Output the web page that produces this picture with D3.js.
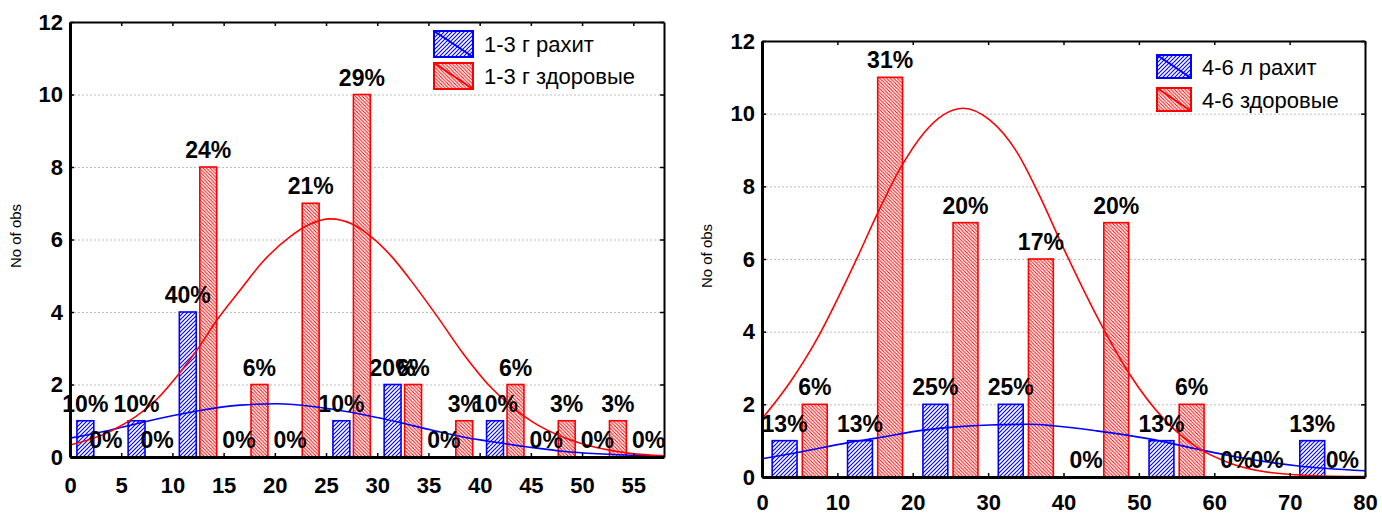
<!DOCTYPE html>
<html lang="ru">
<head>
<meta charset="UTF-8">
<title>Гистограммы: рахит / здоровые</title>
<script src="https://d3js.org/d3.v7.min.js"></script>
<style>
  body { margin: 0; background: #fff; }
  text { font-family: "Liberation Sans", Arial, sans-serif; }
</style>
</head>
<body>
<svg id="chart" width="1382" height="514"></svg>
<script>
// ---- left panel: 1-3 years, bins of 5 ----
const leftBins = [0, 5, 10, 15, 20, 25, 30, 35, 40, 45, 50, 55];
const leftRickets = [1, 1, 4, 0, 0, 1, 2, 0, 1, 0, 0, 0];
const leftHealthy = [0, 0, 8, 2, 7, 10, 2, 1, 2, 1, 1, 0];
const leftXTicks = [0, 5, 10, 15, 20, 25, 30, 35, 40, 45, 50, 55];
const leftLegend = ["1-3 г рахит", "1-3 г здоровые"];
// fitted curves as [x, count]
const leftRicketsCurve = [[0,0.52],[3.9,0.74],[8.5,1.05],[12.4,1.27],[16.6,1.43],[20.2,1.47],[24.1,1.38],[27.3,1.24],[31.9,0.97],[35.2,0.75],[38.4,0.55],[41.7,0.40],[44.9,0.27],[48.1,0.16],[51.5,0.09],[54.8,0.05],[58,0.02]];
const leftHealthyCurve = [[0,0.33],[3.9,0.7],[8.5,1.6],[10.7,2.32],[12.4,2.95],[14.4,3.8],[16.6,4.6],[18.8,5.38],[21.5,6.08],[23.4,6.42],[25.4,6.57],[27.6,6.42],[29.3,6.1],[31.5,5.5],[33.2,4.9],[35.8,3.9],[38.4,2.85],[41,1.95],[43,1.42],[45.2,0.96],[48.1,0.55],[51.4,0.26],[54.7,0.1],[58,0.03]];

// ---- right panel: 4-6 years, bins of 10 ----
const rightBins = [0, 10, 20, 30, 40, 50, 60, 70];
const rightRickets = [1, 1, 2, 2, 0, 1, 0, 1];
const rightHealthy = [2, 11, 7, 6, 7, 2, 0, 0];
const rightXTicks = [0, 10, 20, 30, 40, 50, 60, 70, 80];
const rightLegend = ["4-6 л рахит", "4-6 здоровые"];
const rightRicketsCurve = [[0,0.5],[5.1,0.69],[11.3,0.94],[15.2,1.07],[21.4,1.29],[25.8,1.38],[30.2,1.43],[35.5,1.45],[38.6,1.41],[44.4,1.27],[51.4,1.05],[57.7,0.77],[63,0.55],[70.9,0.31],[80,0.17]];
const rightHealthyCurve = [[0,1.6],[3.7,2.6],[7.3,3.8],[10.3,5.02],[13,6.2],[15.2,7.2],[18.3,8.48],[21.4,9.45],[24,9.96],[26.7,10.15],[30.2,9.83],[33.8,8.95],[36.9,7.71],[40,6.3],[45.2,4.12],[48.8,2.82],[53.2,1.62],[57.7,0.82],[62.1,0.38],[66.5,0.15],[70.9,0.06],[75.5,0.02],[80,0.01]];

const yTicks = [0, 2, 4, 6, 8, 10, 12];
const colors = ["#0000ff", "#ff0000"];

const svg = d3.select("#chart");
svg.append("rect").attr("width", 1382).attr("height", 514).attr("fill", "#fff");

const defs = svg.append("defs");
// blue "/" hatch, red "\" hatch
const pBlue = defs.append("pattern").attr("id", "hatch0")
    .attr("patternUnits", "userSpaceOnUse").attr("width", 4).attr("height", 4);
pBlue.append("rect").attr("width", 4).attr("height", 4).attr("fill", "#fff");
pBlue.append("path").attr("d", "M-1,1 l2,-2 M0,4 l4,-4 M3,5 l2,-2")
    .attr("stroke", colors[0]).attr("stroke-width", 1.1);
const pRed = defs.append("pattern").attr("id", "hatch1")
    .attr("patternUnits", "userSpaceOnUse").attr("width", 3.5).attr("height", 3.5);
pRed.append("rect").attr("width", 3.5).attr("height", 3.5).attr("fill", "#fff");
pRed.append("path").attr("d", "M-1,2.5 l2,2 M0,0 l3.5,3.5 M2.5,-1 l2,2")
    .attr("stroke", colors[1]).attr("stroke-width", 1);

function drawPanel(cfg, id) {
    const g = svg.append("g");
    const x = d3.scaleLinear().domain([0, cfg.xMax]).range([cfg.left, cfg.right]);
    const y = d3.scaleLinear().domain([0, 12]).range([cfg.bottom, cfg.top]);
    // two bars per bin
    const band = d3.scaleBand().domain([0, 1]).range([0, 1])
        .paddingInner(0.175).paddingOuter(0.3375);

    defs.append("clipPath").attr("id", "clip" + id)
        .append("rect")
        .attr("x", cfg.left).attr("y", cfg.top)
        .attr("width", cfg.right - cfg.left).attr("height", cfg.bottom - cfg.top);

    // dotted grid
    g.append("g")
        .attr("transform", `translate(${cfg.left},0)`)
        .call(d3.axisLeft(y).tickValues([2, 4, 6, 8, 10])
            .tickSize(-(cfg.right - cfg.left)).tickFormat(""))
        .call(a => a.select(".domain").remove())
        .selectAll("line")
        .attr("stroke", "#bdbdbd").attr("stroke-dasharray", "2,2");

    const series = [cfg.rickets, cfg.healthy];
    const totals = series.map(s => d3.sum(s));
    const bars = [];
    series.forEach((vals, s) => {
        vals.forEach((v, i) => {
            const b = cfg.bins[i];
            const x0 = b + band(s) * cfg.binWidth;
            const x1 = x0 + band.bandwidth() * cfg.binWidth;
            bars.push({ s, v, x0, x1, pct: Math.round(v / totals[s] * 100) + "%" });
        });
    });

    const plot = g.append("g").attr("clip-path", `url(#clip${id})`);
    plot.selectAll("rect.bar")
        .data(bars.filter(d => d.v > 0))
        .join("rect")
        .attr("class", "bar")
        .attr("x", d => x(d.x0))
        .attr("width", d => x(d.x1) - x(d.x0))
        .attr("y", d => y(d.v))
        .attr("height", d => y(0) - y(d.v))
        .attr("fill", d => `url(#hatch${d.s})`)
        .attr("stroke", d => colors[d.s])
        .attr("stroke-width", 1.6);

    const line = d3.line()
        .x(d => x(d[0])).y(d => y(d[1]))
        .curve(d3.curveMonotoneX);
    [cfg.ricketsCurve, cfg.healthyCurve].forEach((c, s) => {
        plot.append("path")
            .attr("d", line(c))
            .attr("fill", "none")
            .attr("stroke", colors[s])
            .attr("stroke-width", 1.6);
    });

    // axes
    const bottom = g.append("g")
        .attr("transform", `translate(0,${cfg.bottom})`)
        .call(d3.axisBottom(x).tickValues(cfg.xTicks).tickSize(-4)
            .tickSizeOuter(0).tickPadding(cfg.xLabelPad));
    const left = g.append("g")
        .attr("transform", `translate(${cfg.left},0)`)
        .call(d3.axisLeft(y).tickValues(yTicks).tickSize(-4)
            .tickSizeOuter(0).tickPadding(7));
    const top = g.append("g")
        .attr("transform", `translate(0,${cfg.top})`)
        .call(d3.axisTop(x).tickValues(cfg.xTicks).tickSize(-4)
            .tickSizeOuter(0).tickFormat(""));
    const right = g.append("g")
        .attr("transform", `translate(${cfg.right},0)`)
        .call(d3.axisRight(y).tickValues(yTicks).tickSize(-4)
            .tickSizeOuter(0).tickFormat(""));
    [bottom, left, top, right].forEach((a, k) => {
        a.select(".domain").attr("stroke", "#000").attr("stroke-width", k < 2 ? 3 : 2);
        a.selectAll(".tick line").attr("stroke", "#000").attr("stroke-width", 1.5);
        a.selectAll("text")
            .attr("fill", "#000")
            .style("font-family", '"Liberation Sans", Arial, sans-serif')
            .style("font-size", "22px")
            .style("font-weight", "bold");
    });

    // percent labels
    g.selectAll("text.pct")
        .data(bars.filter(d => (d.x0 + d.x1) / 2 < cfg.xMax))
        .join("text")
        .attr("class", "pct")
        .attr("x", d => x((d.x0 + d.x1) / 2))
        .attr("y", d => y(d.v) - 9)
        .attr("text-anchor", "middle")
        .style("font-size", "23px")
        .style("font-weight", "bold")
        .text(d => d.pct);

    // legend
    const L = cfg.legend;
    cfg.legendLabels.forEach((lab, s) => {
        const ly = L.y + s * L.step;
        const lg = g.append("g");
        lg.append("rect")
            .attr("x", L.x).attr("y", ly).attr("width", L.w).attr("height", L.h)
            .attr("fill", `url(#hatch${s})`)
            .attr("stroke", colors[s]).attr("stroke-width", 2);
        lg.append("line")
            .attr("x1", L.x).attr("y1", ly).attr("x2", L.x + L.w).attr("y2", ly + L.h)
            .attr("stroke", colors[s]).attr("stroke-width", 2);
        lg.append("text")
            .attr("x", L.x + L.w + 11)
            .attr("y", ly + L.h / 2 + 8)
            .style("font-size", "22px")
            .text(lab);
    });

    // y title
    g.append("text")
        .attr("transform", `translate(${cfg.titleX},${cfg.titleY}) rotate(-90)`)
        .attr("text-anchor", "middle")
        .style("font-size", "15px")
        .text("No of obs");
}

drawPanel({
    left: 70, right: 664, top: 22, bottom: 457,
    xMax: 58, binWidth: 5, xLabelPad: 20,
    bins: leftBins, rickets: leftRickets, healthy: leftHealthy, xTicks: leftXTicks,
    ricketsCurve: leftRicketsCurve, healthyCurve: leftHealthyCurve,
    legendLabels: leftLegend,
    legend: { x: 434, y: 31, w: 39, h: 26, step: 32 },
    titleX: 21, titleY: 236
}, 0);

drawPanel({
    left: 762, right: 1365, top: 41, bottom: 477,
    xMax: 80, binWidth: 10, xLabelPad: 17,
    bins: rightBins, rickets: rightRickets, healthy: rightHealthy, xTicks: rightXTicks,
    ricketsCurve: rightRicketsCurve, healthyCurve: rightHealthyCurve,
    legendLabels: rightLegend,
    legend: { x: 1157, y: 55, w: 34, h: 23, step: 33 },
    titleX: 712, titleY: 256
}, 1);
</script>
</body>
</html>
